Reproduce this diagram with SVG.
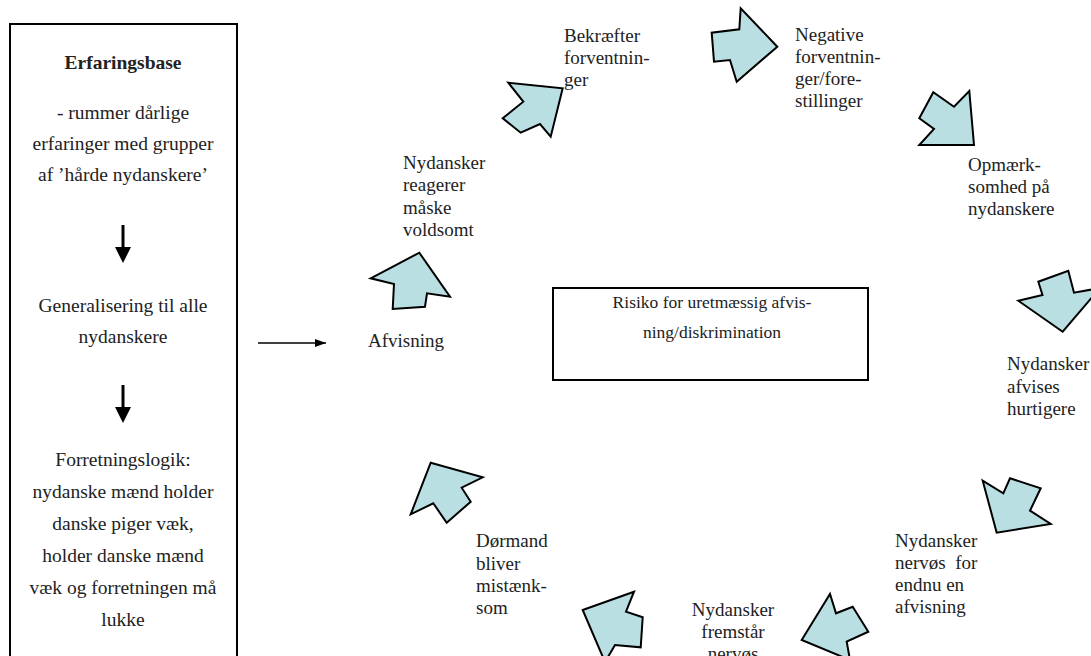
<svg xmlns="http://www.w3.org/2000/svg" width="1091" height="656" viewBox="0 0 1091 656">
<style>
text{font-family:"Liberation Serif","Times New Roman",serif;fill:#222;}
.lb{font-size:19.5px;text-anchor:middle;}
.lbl{font-size:19px;}
.ctr{font-size:19px;text-anchor:middle;}
.ctb{font-size:17.5px;text-anchor:middle;}
.blk{fill:#badfe3;stroke:#000;stroke-width:2;stroke-linejoin:miter;}
.box{fill:#fff;stroke:#000;stroke-width:2;}
</style>
<defs>
<marker id="ah" markerWidth="11" markerHeight="8" refX="11" refY="4" orient="auto" markerUnits="userSpaceOnUse">
<path d="M0,0 L11,4 L0,8 Z" fill="#000"/>
</marker>
</defs>
<rect width="1091" height="656" fill="#fff"/>

<g id="node-erfaringsbase">
<rect class="box" x="10" y="24" width="227" height="650"/>
<text class="lb" x="123" y="69" font-weight="bold">Erfaringsbase</text>
<text class="lb" x="123" y="119">- rummer dårlige</text>
<text class="lb" x="123" y="150">erfaringer med grupper</text>
<text class="lb" x="123" y="181">af ’hårde nydanskere’</text>
<text class="lb" x="123" y="312">Generalisering til alle</text>
<text class="lb" x="123" y="343">nydanskere</text>
<text class="lb" x="123" y="466">Forretningslogik:</text>
<text class="lb" x="123" y="498">nydanske mænd holder</text>
<text class="lb" x="123" y="530">danske piger væk,</text>
<text class="lb" x="123" y="562">holder danske mænd</text>
<text class="lb" x="123" y="594">væk og forretningen må</text>
<text class="lb" x="123" y="626">lukke</text>
</g>

<g id="node-risiko">
<rect class="box" x="553" y="288" width="315" height="92"/>
<text class="ctb" x="712" y="308">Risiko for uretmæssig afvis-</text>
<text class="ctb" x="712" y="338">ning/diskrimination</text>
</g>

<g id="node-afvisning"><text class="lbl" x="368" y="347">Afvisning</text></g>
<g id="node-reagerer"><text class="lbl" x="403" y="169">Nydansker</text><text class="lbl" x="403" y="191">reagerer</text><text class="lbl" x="403" y="214">måske</text><text class="lbl" x="403" y="236">voldsomt</text></g>
<g id="node-bekraefter"><text class="lbl" x="564" y="42">Bekræfter</text><text class="lbl" x="564" y="64">forventnin-</text><text class="lbl" x="564" y="86">ger</text></g>
<g id="node-negative"><text class="lbl" x="795" y="41">Negative</text><text class="lbl" x="795" y="63">forventnin-</text><text class="lbl" x="795" y="85">ger/fore-</text><text class="lbl" x="795" y="107">stillinger</text></g>
<g id="node-opmaerk"><text class="lbl" x="968" y="171">Opmærk-</text><text class="lbl" x="968" y="193">somhed på</text><text class="lbl" x="968" y="215">nydanskere</text></g>
<g id="node-afvises"><text class="lbl" x="1007" y="370">Nydansker</text><text class="lbl" x="1007" y="393">afvises</text><text class="lbl" x="1007" y="415">hurtigere</text></g>
<g id="node-nervoes"><text class="lbl" x="895" y="547">Nydansker</text><text class="lbl" x="895" y="569" xml:space="preserve">nervøs  for</text><text class="lbl" x="895" y="591">endnu en</text><text class="lbl" x="895" y="613">afvisning</text></g>
<g id="node-fremstaar"><text class="ctr" x="733" y="616">Nydansker</text><text class="ctr" x="733" y="638">fremstår</text><text class="ctr" x="733" y="660">nervøs</text></g>
<g id="node-doermand"><text class="lbl" x="476" y="547">Dørmand</text><text class="lbl" x="476" y="570">bliver</text><text class="lbl" x="476" y="592">mistænk-</text><text class="lbl" x="476" y="614">som</text></g>

<g id="connectors">
<path d="M121.5,225 H124.5 V247 H131 L123,263 L115,247 H121.5 Z" fill="#000"/>
<path d="M121.5,385 H124.5 V407 H131 L123,423 L115,407 H121.5 Z" fill="#000"/>
<line x1="258" y1="343" x2="326" y2="343" stroke="#000" stroke-width="1.5" marker-end="url(#ah)"/>
<polygon class="blk" points="419.3,252.7 450,296.7 427,293.3 425,306.7 392.7,309 394,284 370.7,278.3"/>
<polygon class="blk" points="562.7,88.3 550.7,136.7 540,124 520.7,132.7 502.7,118.3 523.3,101.7 508.3,82.7"/>
<polygon class="blk" points="777.3,46.7 736.7,81.7 730,60 714,61.7 711.7,32.7 739.3,29.3 740.7,8.3"/>
<polygon class="blk" points="974,145 919.3,145 934,129 919.3,118.3 933.3,92.3 954,106.7 969.3,91"/>
<polygon class="blk" points="1062.7,331.7 1018.3,300.7 1042.5,295 1038.3,281.7 1068.3,270.7 1074,292.7 1100,288"/>
<polygon class="blk" points="996.7,532.7 982.7,480.7 1003.3,493.3 1010,478.3 1040.7,488.3 1030,510.7 1050.7,524"/>
<polygon class="blk" points="801.7,640 830,594 836,613.3 852.7,606.7 868.3,631.7 846.7,641.7 850,660"/>
<polygon class="blk" points="582.7,610 634,591.7 626,611.7 642.7,617.3 640.7,647.3 615,645 605,662"/>
<polygon class="blk" points="430.7,462.7 482.7,477.3 461.7,487.7 470.7,501.7 446.7,522.7 433.3,503.3 410.7,514.3"/>
</g>
</svg>
